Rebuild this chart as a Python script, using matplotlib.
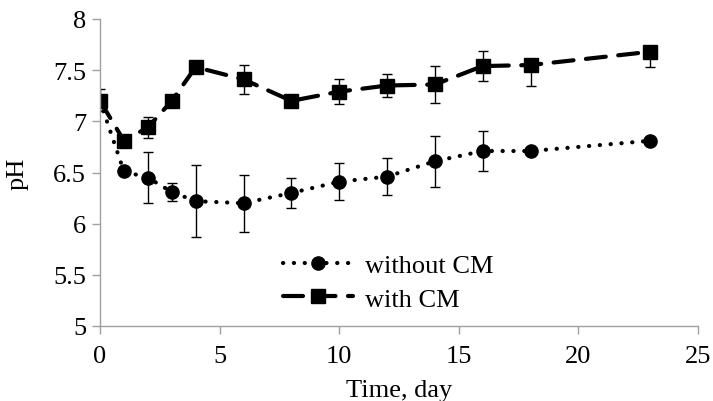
import matplotlib.pyplot as plt
from matplotlib.lines import Line2D
import numpy as np

# --- data ---
days_no_cm = [0, 1, 2, 3, 4, 6, 8, 10, 12, 14, 16, 18, 23]
ph_no_cm = [7.20, 6.51, 6.45, 6.31, 6.22, 6.20, 6.30, 6.41, 6.46, 6.61, 6.71, 6.71, 6.81]
err_no_cm = [0.0, 0.0, 0.25, 0.09, 0.35, 0.28, 0.15, 0.18, 0.18, 0.25, 0.20, 0.03, 0.0]

days_cm = [0, 1, 2, 3, 4, 6, 8, 10, 12, 14, 16, 18, 23]
ph_cm = [7.20, 6.81, 6.94, 7.20, 7.53, 7.41, 7.20, 7.29, 7.35, 7.36, 7.54, 7.55, 7.68]
err_cm_low = [0.10, 0.0, 0.10, 0.0, 0.0, 0.14, 0.0, 0.12, 0.11, 0.18, 0.15, 0.20, 0.15]
err_cm_high = [0.12, 0.0, 0.10, 0.0, 0.0, 0.14, 0.0, 0.12, 0.11, 0.18, 0.15, 0.0, 0.0]

plt.rcParams['font.family'] = ['Liberation Serif', 'DejaVu Serif']

fig = plt.figure(figsize=(7.13, 4.02), dpi=100)
ax = fig.add_axes([100 / 713, 1 - 327 / 402, 598 / 713, 307 / 402])

dotted = (0, (0.05, 2.55))
dashed = (0, (4.8, 3.0))

ax.errorbar(days_no_cm, ph_no_cm, yerr=err_no_cm, color='black', linestyle=dotted,
            linewidth=3.0, dash_capstyle='round', marker='o', markersize=9.5,
            ecolor='black', elinewidth=1, capsize=3.5, capthick=1)
ax.errorbar(days_cm, ph_cm, yerr=[err_cm_low, err_cm_high], color='black', linestyle=dashed,
            linewidth=3.0, dash_capstyle='round', marker='s', markersize=10,
            ecolor='black', elinewidth=1, capsize=3.5, capthick=1)

ax.set_xlim(0, 25)
ax.set_ylim(5, 8)
ax.set_xticks(np.arange(0, 26, 5))
ax.set_yticks(np.arange(5, 8.01, 0.5))
ax.set_yticklabels(['5', '5.5', '6', '6.5', '7', '7.5', '8'])

for s in ['top', 'right']:
    ax.spines[s].set_visible(False)
for s in ['left', 'bottom']:
    ax.spines[s].set_color('#a0a0a0')
    ax.spines[s].set_linewidth(1)
ax.tick_params(colors='#a0a0a0', labelcolor='black', labelsize=19, length=6, width=1)
ax.tick_params(axis='x', pad=8)
ax.tick_params(axis='y', pad=4)

ax.set_xlabel('Time, day', fontsize=19, labelpad=8)
ax.set_ylabel('pH', fontsize=19, labelpad=18)

# legend without the error bars
handles = [
    Line2D([], [], color='black', linestyle=dotted, linewidth=3.0, dash_capstyle='round',
           marker='o', markersize=9.5),
    Line2D([], [], color='black', linestyle=dashed, linewidth=3.0, dash_capstyle='round',
           marker='s', markersize=10),
]
ax.legend(handles, ['without CM', 'with CM'], loc='lower left', bbox_to_anchor=(0.306, 0.05),
          frameon=False, fontsize=19, handlelength=2.65, handletextpad=0.45,
          labelspacing=0.38, borderaxespad=0, borderpad=0)

fig.savefig('out.png', dpi=100)
